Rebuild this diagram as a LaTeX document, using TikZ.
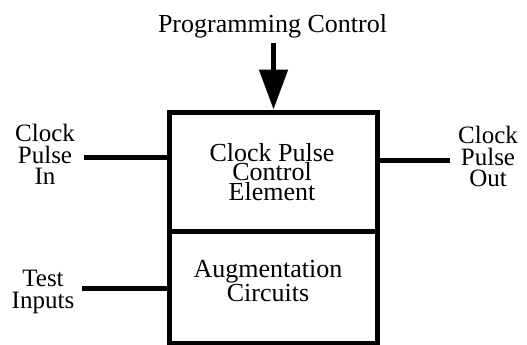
\documentclass[tikz,border=0pt]{standalone}
\usepackage{fontspec}
\setmainfont{Liberation Serif}
\usetikzlibrary{arrows.meta}
\begin{document}
\begin{tikzpicture}[x=1pt,y=1pt,
  blockbox/.style={draw,line width=5pt,rectangle,minimum width=208pt,inner sep=0pt},
  wire/.style={line width=5pt},
  lbl/.style={align=center,inner sep=0pt,font=\fontsize{25}{21.5}\selectfont},
  inlbl/.style={align=center,inner sep=0pt,font=\fontsize{26}{19.5}\selectfont}]
\useasboundingbox (0,0) rectangle (527,-345);
% blocks
\node[blockbox,minimum height=119pt] (top) at (273.5,-171.5) {};
\node[blockbox,minimum height=112.5pt] (bot) at (273.5,-287.25) {};
\node[inlbl] (toptext) at (272,-172) {Clock Pulse\\Control\\Element};
\node[inlbl] (bottext) at (268,-281) {Augmentation\\Circuits};
% programming control
\node[anchor=base,inner sep=0pt,font=\fontsize{26}{26}\selectfont] (pc) at (272.5,-32.7) {Programming Control};
\coordinate (pcs) at (273.5,-43);
\draw[wire,-{Triangle[width=28pt,length=40pt]}] (pcs) -- (top.north);
% side labels
\node[lbl] (cpin) at (45,-154.8) {Clock\\Pulse\\In};
\node[lbl] (cpout) at (488,-156.5) {Clock\\Pulse\\Out};
\node[lbl] (ti) at (43,-292) {Test\\Inputs};
\coordinate (cpinw) at (84,-157);
\coordinate (cpoutw) at (450,-160);
\coordinate (tiw) at (82,-288.5);
\draw[wire] (cpinw) -- (cpinw -| top.west);
\draw[wire] (top.east |- cpoutw) -- (cpoutw);
\draw[wire] (tiw) -- (tiw -| bot.west);
\end{tikzpicture}
\end{document}
